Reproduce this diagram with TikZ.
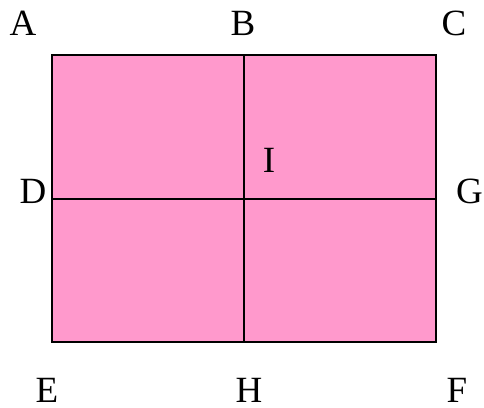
\documentclass[tikz,border=0pt]{standalone}
\usepackage{fontspec}
\setmainfont{Liberation Serif}
\definecolor{pinkfill}{HTML}{FF99CC}
\begin{document}
\begin{tikzpicture}[x=1pt,y=-1pt,
  lbl/.style={anchor=base,inner sep=0pt,font=\fontsize{37}{42}\selectfont},
  edge/.style={line width=2pt,black}]
\useasboundingbox (0,0) rectangle (484,407);
\coordinate (tl) at (52,55);
\coordinate (br) at (436,342);
\coordinate (tm) at (244,55);
\coordinate (bm) at (244,342);
\coordinate (ml) at (52,199);
\coordinate (mr) at (436,199);
\fill[pinkfill] (tl) rectangle (br);
\draw[edge] (tm) -- (bm);
\draw[edge] (ml) -- (mr);
\draw[edge] (tl) rectangle (br);
\node[lbl] (A) at (23,35) {A};
\node[lbl] (B) at (243,35) {B};
\node[lbl] (C) at (454,35) {C};
\node[lbl] (D) at (33,203) {D};
\node[lbl] (G) at (469.5,203) {G};
\node[lbl] (I) at (269,172) {I};
\node[lbl] (E) at (47,402) {E};
\node[lbl] (H) at (249,402) {H};
\node[lbl] (F) at (457,402) {F};
\end{tikzpicture}
\end{document}
